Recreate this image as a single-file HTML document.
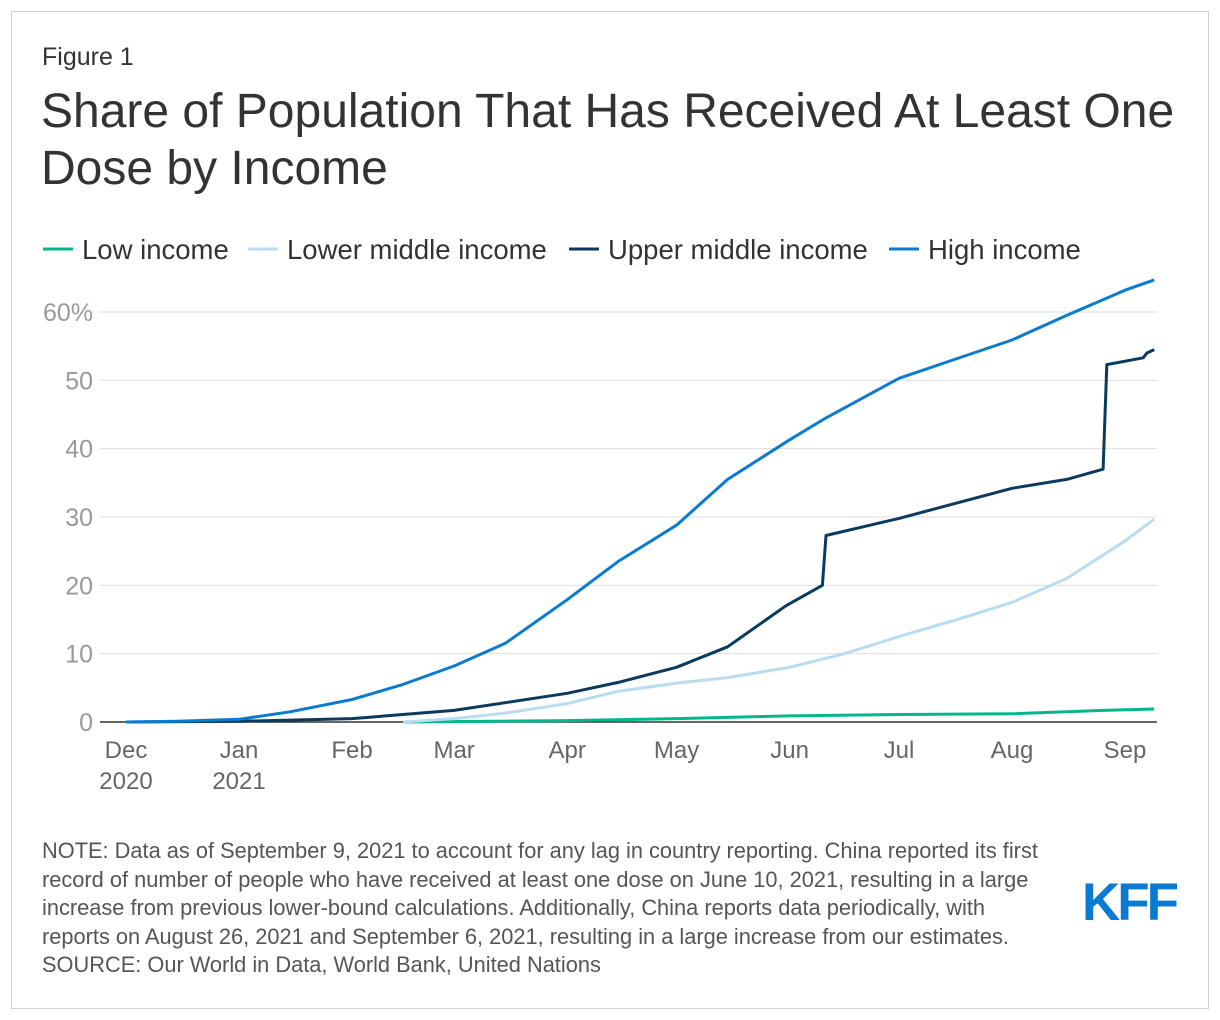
<!DOCTYPE html>
<html><head><meta charset="utf-8">
<style>
body{margin:0;background:#fff;font-family:"Liberation Sans",Arial,sans-serif;}
#frame{position:absolute;left:11px;top:11px;width:1196px;height:996px;border:1px solid #cfcfcf;}
.t{position:absolute;color:#333;white-space:nowrap;}
</style></head><body>
<div id="frame"></div>
<div class="t" style="left:42px;top:43px;font-size:25px;">Figure 1</div>
<div class="t" style="left:41px;top:83px;font-size:48px;line-height:57px;color:#333;">Share of Population That Has Received At Least One<br>Dose by Income</div>
<svg width="1220" height="1020" style="position:absolute;left:0;top:0" id="chart">
<g id="legend" font-size="27.5" fill="#333">
<g><line x1="43" y1="249" x2="73" y2="249" stroke="#00b88a" stroke-width="3"/><text x="82" y="259">Low income</text></g>
<g><line x1="248" y1="249" x2="278" y2="249" stroke="#b9dcf0" stroke-width="3"/><text x="287" y="259">Lower middle income</text></g>
<g><line x1="569" y1="249" x2="599" y2="249" stroke="#0b3a5e" stroke-width="3"/><text x="608" y="259">Upper middle income</text></g>
<g><line x1="889" y1="249" x2="919" y2="249" stroke="#0a7bd0" stroke-width="3"/><text x="928" y="259">High income</text></g>
</g>
<g id="grid"></g><g id="xax"></g><g id="series"></g>
</svg>
<div class="t" style="left:42px;top:837px;font-size:21.8px;line-height:28.5px;color:#555;">NOTE: Data as of September 9, 2021 to account for any lag in country reporting. China reported its first<br>record of number of people who have received at least one dose on June 10, 2021, resulting in a large<br>increase from previous lower-bound calculations. Additionally, China reports data periodically, with<br>reports on August 26, 2021 and September 6, 2021, resulting in a large increase from our estimates.<br>SOURCE: Our World in Data, World Bank, United Nations</div>
<div class="t" style="left:1082px;top:872px;font-size:53px;font-weight:bold;color:#0a7bd0;letter-spacing:-3px;">KFF</div>
<script>
const yTicks=[0,10,20,30,40,50,60];
const yLabels=["0","10","20","30","40","50","60%"];
const monthDays=[0,31,62,90,121,151,182,212,243,274];
const monthLabels=["Dec","Jan","Feb","Mar","Apr","May","Jun","Jul","Aug","Sep"];
const yearLabels=["2020","2021","","","","","","","",""];
const highDays=[0,14,31,45,62,76,90,104,121,135,151,165,182,192,212,228,243,258,274,282];
const highVals=[0,0.1,0.4,1.5,3.3,5.5,8.2,11.5,17.9,23.5,28.8,35.5,41.3,44.5,50.3,53.2,55.9,59.5,63.2,64.7];
const upperDays=[0,31,62,90,121,135,151,165,181,191,192,212,243,258,268,269,279,280,282];
const upperVals=[0,0.1,0.5,1.7,4.2,5.8,8.0,11.0,17.0,20.0,27.3,29.8,34.2,35.5,37.0,52.3,53.3,54.0,54.5];
const lowerDays=[76,90,104,121,135,151,165,182,197,212,228,243,258,274,282];
const lowerVals=[0,0.5,1.3,2.7,4.5,5.7,6.5,8.0,10.0,12.5,15.0,17.5,21.0,26.5,29.7];
const lowDays=[76,121,151,182,212,243,268,282];
const lowVals=[0,0.2,0.5,0.9,1.1,1.2,1.7,1.9];
const NS="http://www.w3.org/2000/svg";
const X=d=>126+d*3.646, Y=v=>722-v*6.833;
function mk(tag,attrs,parent){const e=document.createElementNS(NS,tag);for(const k in attrs)e.setAttribute(k,attrs[k]);parent.appendChild(e);return e;}
const grid=document.getElementById('grid');
yTicks.forEach((t,i)=>{
 if(t>0){const l=mk('line',{x1:100,x2:1157,y1:Y(t),y2:Y(t),stroke:'#dedede','stroke-width':1},grid);
 
 }
 const tx=mk('text',{x:93,y:Y(t)+9,'text-anchor':'end','font-size':25,fill:'#999'},grid);tx.textContent=yLabels[i];
 
 
});
const ax=mk('line',{x1:100,x2:1157,y1:722,y2:722,stroke:'#333','stroke-width':1.5},grid);


const xax=document.getElementById('xax');
monthDays.forEach((d,i)=>{
 const t=mk('text',{x:X(d),y:758,'text-anchor':'middle','font-size':24,fill:'#666'},xax);t.textContent=monthLabels[i];
 
 
 if(yearLabels[i]){const t2=mk('text',{x:X(d),y:789,'text-anchor':'middle','font-size':24,fill:'#666'},xax);t2.textContent=yearLabels[i];
 
 }
});
const ser=document.getElementById('series');
function line(days,vals,color,name){
 const p=days.map((d,i)=>X(d).toFixed(1)+','+Y(vals[i]).toFixed(1)).join(' ');
 const e=mk('polyline',{points:p,fill:'none',stroke:color,'stroke-width':3,'stroke-linejoin':'round'},ser);
 
 
}
line(lowDays,lowVals,'#00b88a','low-income-line');
line(lowerDays,lowerVals,'#b9dcf0','lower-middle-income-line');
line(upperDays,upperVals,'#0b3a5e','upper-middle-income-line');
line(highDays,highVals,'#0a7bd0','high-income-line');
</script>
</body></html>
